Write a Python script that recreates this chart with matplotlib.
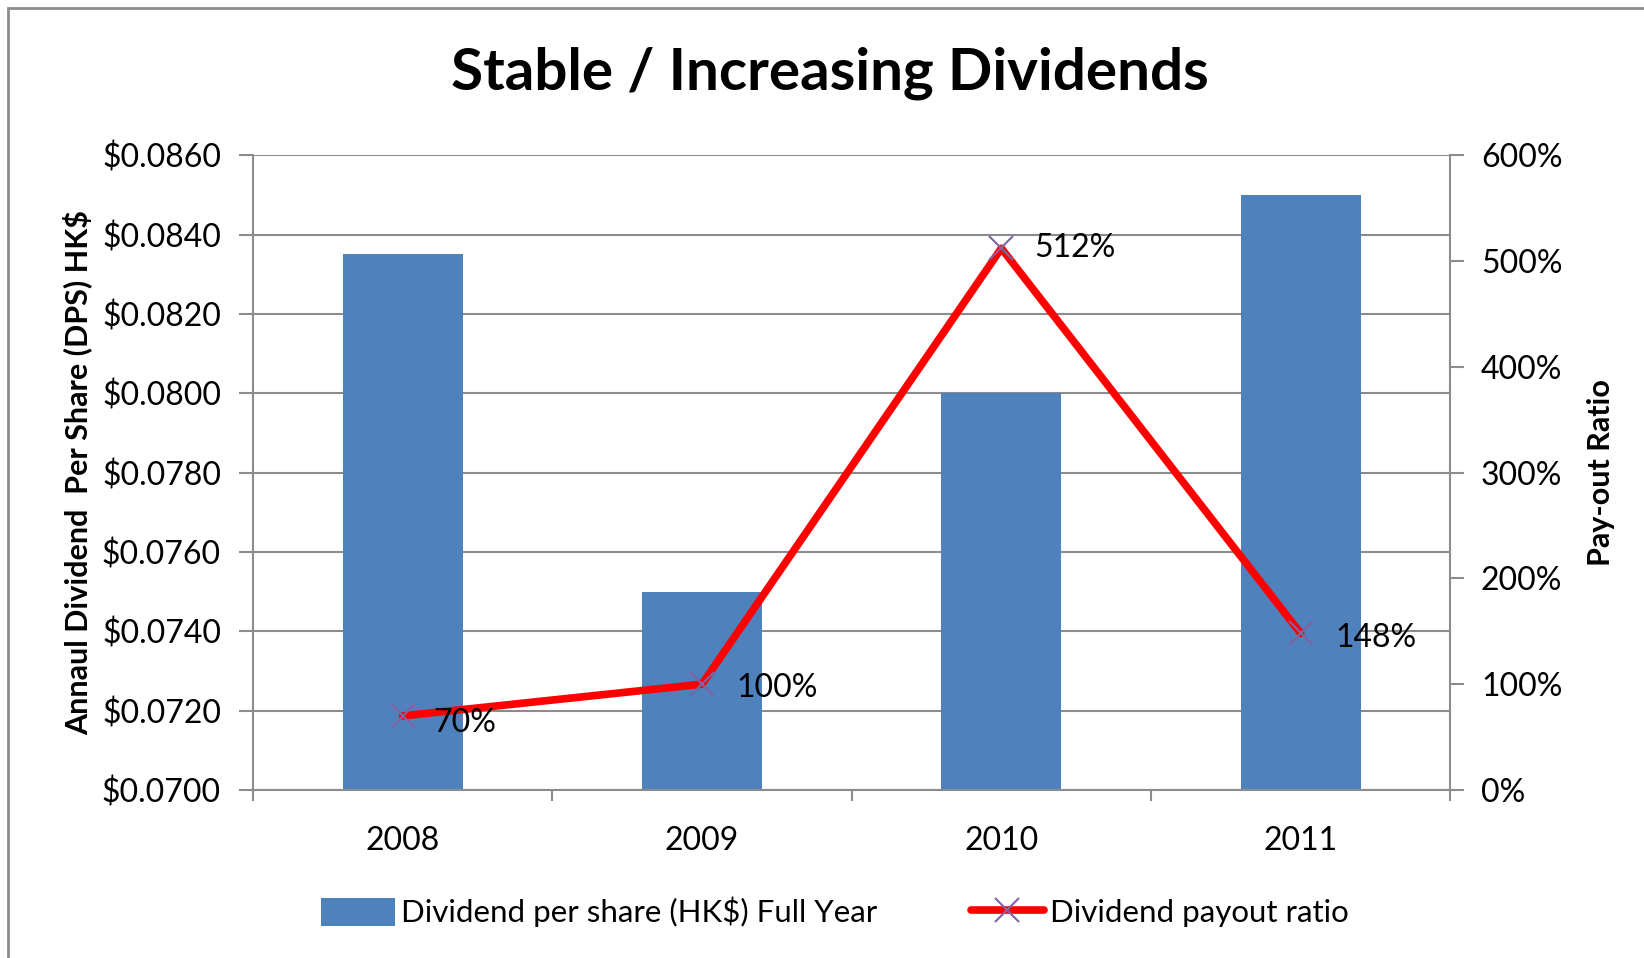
import matplotlib.pyplot as plt
from matplotlib.ticker import FuncFormatter, MultipleLocator
from matplotlib.patches import Rectangle

years = ["2008", "2009", "2010", "2011"]
dps = [0.0835, 0.0750, 0.0800, 0.0850]
payout = [70, 100, 512, 148]
payout_labels = ["70%", "100%", "512%", "148%"]

plt.rcParams['font.family'] = ['Lato', 'DejaVu Sans']

fig = plt.figure(figsize=(16.44, 9.58), dpi=100)
ax = fig.add_axes([0.1539, 0.1754, 0.7283, 0.6626])
ax2 = ax.twinx()

x = list(range(len(years)))
bars = ax.bar(x, dps, width=0.40, color="#4F81BD", zorder=2,
              label="Dividend per share (HK$) Full Year")
ax.set_xlim(-0.5, 3.5)
ax.set_ylim(0.07, 0.086)
ax.yaxis.set_major_locator(MultipleLocator(0.002))
ax.yaxis.set_major_formatter(FuncFormatter(lambda v, p: "${:.4f}".format(v)))
ax.grid(axis="y", color="#8c8c8c", linewidth=1.5, zorder=0)
ax.set_axisbelow(True)

# ticks between categories, labels at category centres
ax.set_xticks([-0.5, 0.5, 1.5, 2.5, 3.5])
ax.set_xticklabels([])
ax.set_xticks(x, minor=True)
ax.set_xticklabels(years, minor=True)
ax.tick_params(axis="x", which="major", length=8, width=1.5, color="#8c8c8c", direction="out")
ax.tick_params(axis="x", which="minor", length=0, labelsize=23, pad=26)
ax.tick_params(axis="y", length=10, width=1.5, color="#8c8c8c", labelsize=23, pad=13)

for s in ["top", "right"]:
    ax.spines[s].set_visible(False)
    ax2.spines[s].set_visible(False)
for sp in [ax.spines["left"], ax.spines["bottom"], ax2.spines["right"]]:
    sp.set_color("#8c8c8c")
    sp.set_linewidth(1.5)
ax2.spines["right"].set_visible(True)
ax2.spines["left"].set_visible(False)
ax2.spines["bottom"].set_visible(False)

line, = ax2.plot(x, payout, color="#FF0000", linewidth=5.5, marker="x",
                 markersize=17, markeredgecolor="#8064A2", markeredgewidth=1.5,
                 solid_capstyle="round", zorder=3, label="Dividend payout ratio")
ax2.set_ylim(0, 600)
ax2.yaxis.set_major_locator(MultipleLocator(100))
ax2.yaxis.set_major_formatter(FuncFormatter(lambda v, p: "{:.0f}%".format(v)))
ax2.tick_params(axis="y", length=10, width=1.5, color="#8c8c8c", labelsize=23, pad=12)

offsets = [(22, -5), (25, -3), (24, 0), (25, -3)]
for xi, yi, lab, off in zip(x, payout, payout_labels, offsets):
    ax2.annotate(lab, (xi, yi), xytext=off, textcoords="offset points",
                 fontsize=23, va="center", ha="left")

ax.set_ylabel("Annaul Dividend  Per Share (DPS) HK$", fontsize=22, fontweight="bold", labelpad=7)
ax2.set_ylabel("Pay-out Ratio", fontsize=22, fontweight="bold", labelpad=18)

fig.text(0.505, 0.924, "Stable / Increasing Dividends", fontsize=42,
         fontweight="bold", ha="center", va="center")

fig.legend([bars, line], ["Dividend per share (HK$) Full Year", "Dividend payout ratio"],
           loc="center", bbox_to_anchor=(0.508, 0.048), ncol=2, frameon=False,
           fontsize=22.5, handlelength=2.35, handleheight=1.0, columnspacing=3.0,
           handletextpad=0.2)

fig.add_artist(Rectangle((8 / 1644, -0.05), 1.1, 1 - 8 / 958 + 0.05,
                         transform=fig.transFigure, fill=False,
                         edgecolor="#8c8c8c", linewidth=2))

fig.savefig("out.png", dpi=100)
